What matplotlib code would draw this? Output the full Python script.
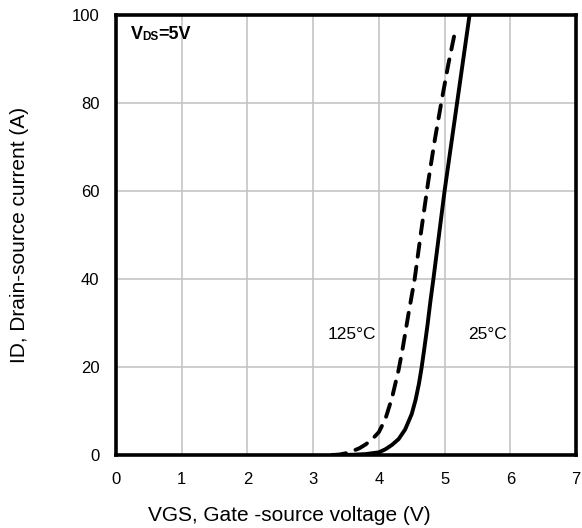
import matplotlib
matplotlib.use('Agg')
import matplotlib.pyplot as plt

# Transfer characteristics, ID vs VGS at VDS = 5 V
vgs_25 = [3.3, 3.6, 3.8, 4.0, 4.1, 4.2, 4.3, 4.4, 4.5, 4.56, 4.61, 4.65, 4.69, 4.74,
          4.785, 4.83, 4.915, 5.0, 5.095, 5.19, 5.285, 5.38]
id_25 = [0, 0.05, 0.2, 0.6, 1.3, 2.3, 3.6, 5.8, 9.3, 12.6, 16.2, 19.8, 24, 29.5,
         35, 40, 50, 60, 70, 80, 90, 100]

vgs_125 = [3.3, 3.4, 3.5, 3.6, 3.7, 3.8, 3.9, 4.0, 4.1, 4.2, 4.3, 4.36, 4.45, 4.545,
           4.645, 4.75, 4.85, 4.955, 5.06, 5.17]
id_125 = [0, 0.1, 0.4, 0.9, 1.5, 2.4, 3.6, 5.2, 8.2, 13, 19.3, 24, 32, 40,
          51, 62, 71.5, 80.5, 89, 97]

x_ticks = [0, 1, 2, 3, 4, 5, 6, 7]
y_ticks = [0, 20, 40, 60, 80, 100]

plt.rcParams['font.family'] = ['Liberation Sans', 'DejaVu Sans']

fig = plt.figure(figsize=(5.82, 5.28), dpi=100)
ax = fig.add_axes([0.1993, 0.1383, 0.7904, 0.8333])

ax.plot(vgs_25, id_25, color='black', lw=2.8, solid_joinstyle='round', zorder=3)
ax.plot(vgs_125, id_125, color='black', lw=2.8, ls=(0, (3.4, 2.6)),
        dash_capstyle='round', dash_joinstyle='round', zorder=3)

ax.set_xlim(0, 7)
ax.set_ylim(0, 100)
ax.set_xticks(x_ticks)
ax.set_yticks(y_ticks)
ax.tick_params(length=0, labelsize=12, pad=12)
ax.grid(True, color='#c0c0c0', lw=1.1)
ax.set_axisbelow(True)
for sp in ax.spines.values():
    sp.set_linewidth(2.6)
    sp.set_zorder(4)

ax.set_xlabel('VGS, Gate -source voltage (V)', fontsize=15, va='center')
ax.xaxis.set_label_coords(0.376, -0.137)
ax.set_ylabel('ID, Drain-source current (A)', fontsize=15)
ax.yaxis.set_label_coords(-0.189, 0.5)

ax.text(3.59, 27.3, '125°C', fontsize=12.5, ha='center', va='center')
ax.text(5.66, 27.3, '25°C', fontsize=12.5, ha='center', va='center')

# VDS=5V with small-caps subscript on the baseline
t1 = ax.text(0.22, 93.7, 'V', fontsize=13, fontweight='bold', va='bottom')
t2 = ax.annotate('DS', xy=(1, 0), xycoords=t1, fontsize=8.5, fontweight='bold', va='bottom')
ax.annotate('=5V', xy=(1, 0), xycoords=t2, fontsize=13, fontweight='bold', va='bottom')

fig.savefig('out.png', dpi=100)
